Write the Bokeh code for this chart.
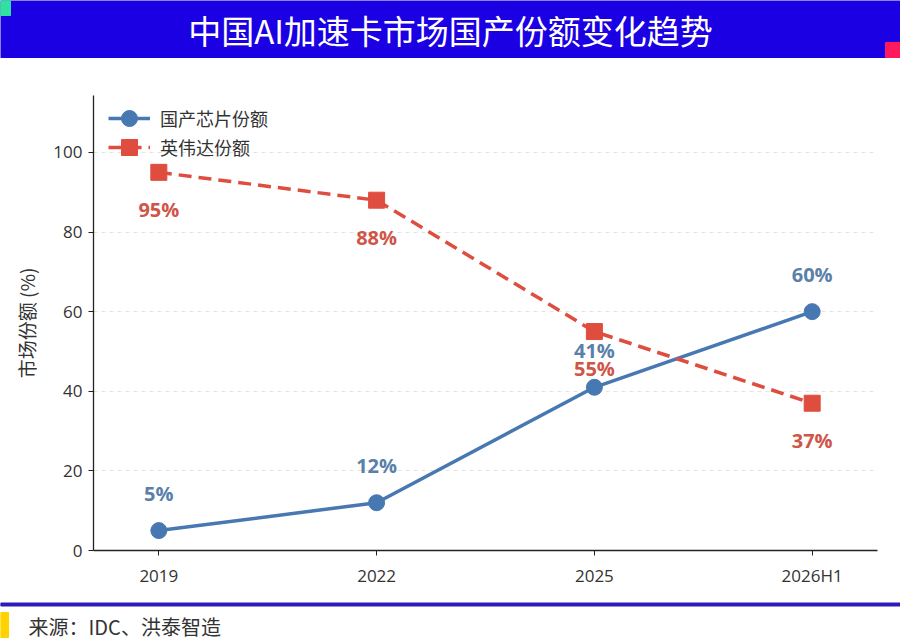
from bokeh.plotting import figure
from bokeh.layouts import column
from bokeh.models import Range1d, FixedTicker, Legend, LegendItem
from bokeh.core.properties import value
from bokeh.embed import file_html
from bokeh.resources import INLINE

# data
years = ["2019", "2022", "2025", "2026H1"]
domestic = [5, 12, 41, 60]
nvidia = [95, 88, 55, 37]
title_text = "中国AI加速卡市场国产份额变化趋势"
source_text = "来源：IDC、洪泰智造"
legend_labels = ["国产芯片份额", "英伟达份额"]

BLUE = "#4878b2"
BLUE_TXT = "#5a80aa"
RED = "#df4d3f"
RED_TXT = "#cf5548"
W = 900

# header bar
head = figure(width=W, height=58, x_range=(0, W), y_range=(0, 58),
              toolbar_location=None, output_backend="svg", min_border=0)
head.frame_align = False
head.axis.visible = False
head.grid.visible = False
head.outline_line_color = None
head.background_fill_color = "#1b00e4"
head.border_fill_color = "#1b00e4"
head.quad(left=0, right=10, bottom=43, top=58, color="#30e0a0")
head.quad(left=885, right=900, bottom=1, top=16, color="#ff1a5e")
head.text(x=[450], y=[29], text=[title_text], text_color="white",
          text_font=value("Noto Sans CJK SC"), text_font_size="33px",
          text_align="center", text_baseline="middle")

# main chart
xs = list(range(len(years)))
p = figure(width=W, height=542, x_range=Range1d(-0.3, 3.3), y_range=Range1d(0, 114.3),
           toolbar_location=None, output_backend="svg",
           min_border_left=93, min_border_right=23, min_border_top=37, min_border_bottom=50)
p.frame_align = False
p.outline_line_color = None
p.xgrid.visible = False
p.ygrid.grid_line_color = "#e4e4e4"
p.ygrid.grid_line_dash = "4 4"
p.ygrid.grid_line_width = 1

p.xaxis.ticker = FixedTicker(ticks=xs)
p.xaxis.major_label_overrides = {i: y for i, y in enumerate(years)}
p.yaxis.ticker = FixedTicker(ticks=[0, 20, 40, 60, 80, 100])
for ax in (p.xaxis, p.yaxis):
    ax.axis_line_color = "#222222"
    ax.axis_line_width = 1.3
    ax.major_tick_line_color = "#222222"
    ax.major_tick_out = 5
    ax.major_tick_in = 0
    ax.minor_tick_line_color = None
    ax.major_label_text_font = "Open Sans"
    ax.major_label_text_font_size = "17px"
    ax.major_label_text_color = "#333333"
p.xaxis.major_label_standoff = 8
p.yaxis.major_label_standoff = 6
p.yaxis.axis_label = "市场份额 (%)"
p.yaxis.axis_label_text_font = "Noto Sans CJK SC"
p.yaxis.axis_label_text_font_size = "19px"
p.yaxis.axis_label_text_font_style = "normal"
p.yaxis.axis_label_text_color = "#333333"
p.yaxis.axis_label_standoff = 10

l1 = p.line(xs, domestic, line_color=BLUE, line_width=3.5)
s1 = p.scatter(xs, domestic, marker="circle", size=16, fill_color=BLUE, line_color=BLUE)
l2 = p.line(xs, nvidia, line_color=RED, line_width=3.5, line_dash="13 7")
s2 = p.scatter(xs, nvidia, marker="square", size=16, fill_color=RED, line_color=RED)

p.text(xs, domestic, text=[f"{v}%" for v in domestic], y_offset=-37,
       text_color=BLUE_TXT, text_font=value("Open Sans"), text_font_size="20px",
       text_font_style="bold", text_align="center", text_baseline="middle")
p.text(xs, nvidia, text=[f"{v}%" for v in nvidia], y_offset=37,
       text_color=RED_TXT, text_font=value("Open Sans"), text_font_size="20px",
       text_font_style="bold", text_align="center", text_baseline="middle")

# one legend per entry so the rows can sit closer than the large glyph box
for label, rends, bottom in [(legend_labels[0], [l1, s1], 412), (legend_labels[1], [l2, s2], 383)]:
    lg = Legend(items=[LegendItem(label=label, renderers=rends)],
                location=(15, bottom), border_line_color=None, background_fill_alpha=0,
                margin=0, padding=0, glyph_width=42, glyph_height=40,
                label_standoff=10, label_text_font="Noto Sans CJK SC",
                label_text_font_size="18px", label_text_color="#333333")
    p.add_layout(lg)

# footer
foot = figure(width=W, height=41, x_range=(0, W), y_range=(0, 41),
              toolbar_location=None, output_backend="svg", min_border=0)
foot.frame_align = False
foot.axis.visible = False
foot.grid.visible = False
foot.outline_line_color = None
foot.quad(left=0, right=W, bottom=35.5, top=38.5, color="#2c1cb8")
foot.quad(left=0, right=8, bottom=4, top=29, color="#ffd200")
foot.text(x=[28], y=[15], text=[source_text], text_color="#333333",
          text_font=value("Noto Sans CJK SC"), text_font_size="20px",
          text_align="left", text_baseline="middle")

layout = column(head, p, foot, spacing=0)
open("out.html", "w").write(file_html(layout, INLINE))
